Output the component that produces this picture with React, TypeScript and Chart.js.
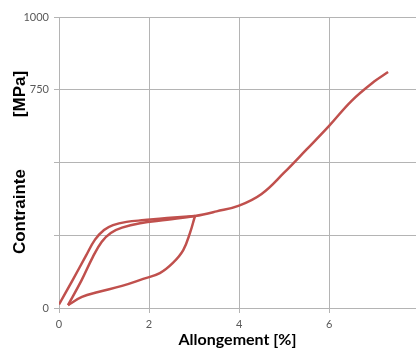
import React, { useEffect, useRef } from "react";
import { Chart, registerables } from "chart.js";

Chart.register(...registerables);

const loadX = [0, 0.3, 0.6, 0.8, 1.0, 1.2, 1.5, 1.9, 2.4, 3.02];
const loadY = [12, 95, 180, 235, 268, 285, 296, 302, 309, 316];

const unloadX = [3.02, 2.91, 2.76, 2.53, 2.24, 1.87, 1.4, 0.87, 0.51, 0.2];
const unloadY = [316, 258, 199, 155, 120, 100, 76, 55, 38, 10];

const reloadX = [0.2, 0.5, 0.75, 0.95, 1.15, 1.4, 1.8, 2.4, 3.02, 3.5, 4.0, 4.5, 5.0, 5.5, 6.0, 6.5, 7.0, 7.31];
const reloadY = [10, 95, 175, 228, 258, 276, 291, 303, 316, 332, 352, 392, 465, 545, 626, 712, 778, 811];

const xTicks = [0, 2, 4, 6];
const yGrid = [0, 250, 500, 750, 1000];
const yLabelled = [0, 750, 1000];

const RED = "#C0504D";
const GRID = "#b4b4b4";

const pts = (xs: number[], ys: number[]) => xs.map((x, i) => ({ x, y: ys[i] }));

export default function App() {
  const ref = useRef<HTMLCanvasElement | null>(null);
  useEffect(() => {
    if (!ref.current) return;
    const ds = (xs: number[], ys: number[]) => ({
      data: pts(xs, ys),
      showLine: true,
      borderColor: RED,
      backgroundColor: RED,
      borderWidth: 2.5,
      pointRadius: 0,
      tension: 0.4,
    });
    const chart = new Chart(ref.current, {
      type: "scatter",
      data: { datasets: [ds(loadX, loadY), ds(unloadX, unloadY), ds(reloadX, reloadY)] },
      options: {
        animation: false,
        responsive: true,
        maintainAspectRatio: false,
        layout: { padding: { top: 17, right: 0, left: 0, bottom: 0 } },
        plugins: { legend: { display: false }, tooltip: { enabled: false } },
        scales: {
          x: {
            type: "linear",
            min: 0,
            max: 7.93,
            afterBuildTicks: (s: any) => {
              s.ticks = xTicks.map((v) => ({ value: v }));
            },
            afterFit: (s: any) => {
              s.height = 41;
            },
            grid: { color: GRID, tickLength: 5 },
            border: { color: GRID },
            ticks: { color: "#595959", font: { family: "Lato", size: 11 }, padding: 5 },
            title: {
              display: true,
              text: "Allongement [%]",
              color: "#000",
              font: { family: "Lato", size: 16, weight: "bold" },
              padding: { top: 0, bottom: 0 },
            },
          },
          y: {
            min: 0,
            max: 1000,
            afterBuildTicks: (s: any) => {
              s.ticks = yGrid.map((v) => ({ value: v }));
            },
            afterFit: (s: any) => {
              s.width = 59;
            },
            grid: { color: GRID, tickLength: 5 },
            border: { color: GRID },
            ticks: {
              color: "#595959",
              font: { family: "Lato", size: 11 },
              padding: 5,
              callback: (v: any) => (yLabelled.includes(Number(v)) ? String(v) : ""),
            },
            title: {
              display: true,
              text: "Contrainte           [MPa]",
              color: "#000",
              font: { family: "Liberation Sans", size: 17, weight: "bold" },
              padding: { top: 10, bottom: 0 },
            },
          },
        },
      },
    });
    return () => chart.destroy();
  }, []);
  return (
    <div style={{ position: "fixed", left: 0, top: 0, width: 416, height: 349, background: "#fff" }}>
      <canvas ref={ref} />
    </div>
  );
}
